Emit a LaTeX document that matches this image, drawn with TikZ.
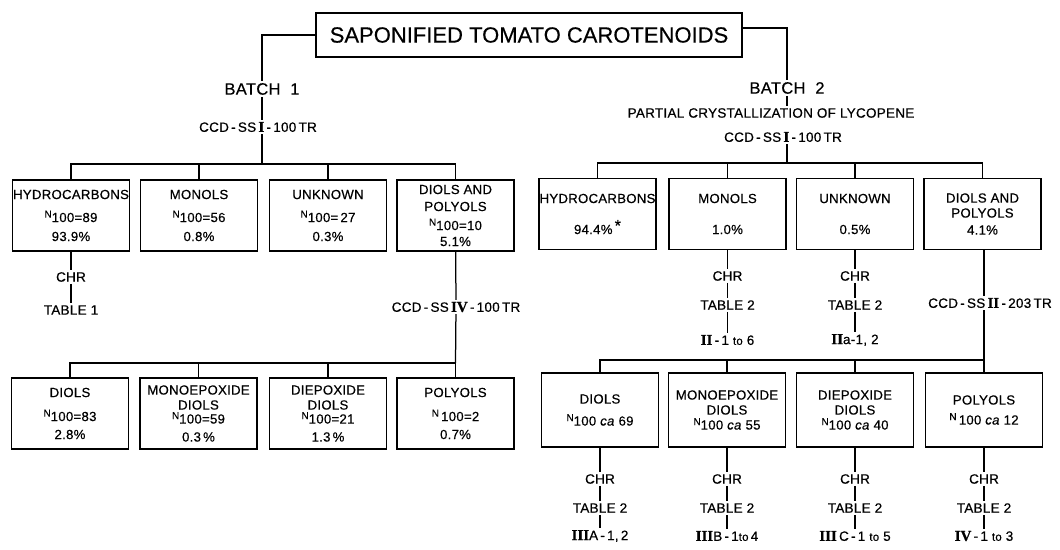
\documentclass[tikz,border=0pt]{standalone}
\usepackage{fontspec}
\setmainfont{Liberation Sans}
\newfontfamily\lfont[LetterSpace=2,FakeBold=0.5]{Liberation Sans}
\newfontfamily\tfont[FakeBold=0.4]{Liberation Sans}
\newfontfamily\romfont[FakeBold=0.5]{Liberation Serif}
\newcommand\rn[1]{{\romfont\bfseries\fontsize{15}{15}\selectfont #1}}
\newcommand\Nsub{\raisebox{4.5pt}{\fontsize{10}{10}\selectfont N}}
\newcommand\ca{\textit{ca}}
\newcommand\tto{{\fontsize{11.5}{12}\selectfont to}}
\tikzset{
  box/.style={draw, minimum width=117pt, minimum height=71pt, inner sep=0pt, align=center,
    font=\lfont\fontsize{13.2}{15}\selectfont},
  lab/.style={inner sep=1.5pt, font=\lfont\fontsize{13.5}{15}\selectfont},
  big/.style={inner sep=1.5pt, font=\lfont\fontsize{16.5}{18}\selectfont},
  ttl/.style={draw, minimum width=426pt, minimum height=44pt, inner sep=0pt, font=\tfont\fontsize{22}{26}\selectfont}
}
\begin{document}
\begin{tikzpicture}[x=1pt,y=-1pt,line width=1.25pt]
\useasboundingbox (0,0) rectangle (1060,549);
\node[ttl] (title) at (529,35) {SAPONIFIED TOMATO CAROTENOIDS};
% batch 1
\node[big] (batch1) at (262,89) {BATCH\ \ 1};
\node[lab] (ccd1) at (258,127) {CCD\,-\,SS\,\rn{I}\,-\,100\,TR};
\coordinate (bar1) at (262,164);
\draw (title.west) -| (batch1.north);
\draw (batch1.south) -- (batch1.south |- ccd1.north);
\draw (batch1.south |- ccd1.south) -- (bar1);
\node[box] (h1) at (71,215.5) {HYDROCARBONS\\[8pt]\Nsub100=89\\[4pt]93.9\%};
\node[box] (m1) at (199,215.5) {MONOLS\\[8pt]\Nsub100=56\\[4pt]0.8\%};
\node[box] (u1) at (328,215.5) {UNKNOWN\\[8pt]\Nsub100=\,27\\[4pt]0.3\%};
\node[box] (d1) at (455.5,215.5) {DIOLS AND\\[2pt]POLYOLS\\[4pt]\Nsub100=10\\[1pt]5.1\%};
\draw (h1.north) -- (h1.north |- bar1) -- (d1.north |- bar1) -- (d1.north);
\draw (m1.north) -- (m1.north |- bar1);
\draw (u1.north) -- (u1.north |- bar1);
\node[lab] (chr1) at (71,277) {CHR};
\node[lab] (tab1) at (71,310) {TABLE 1};
\draw (h1) -- (chr1) -- (tab1);
\node[lab] (ccd4) at (456,307) {CCD\,-\,SS\,\rn{IV}\,-\,100\,TR};
\coordinate (bar2) at (455.5,363);
\draw (d1) -- (ccd4);
\draw (ccd4) -- (bar2);
\node[box] (bd1) at (70,413.5) {DIOLS\\[9pt]\Nsub100=83\\[3pt]2.8\%};
\node[box] (bm1) at (198.5,413.5) {MONOEPOXIDE\\DIOLS\\[-1pt]\Nsub100=59\\[3pt]0.3\,\%};
\node[box] (be1) at (328,413.5) {DIEPOXIDE\\DIOLS\\[-1pt]\Nsub100=21\\[3pt]1.3\,\%};
\node[box] (bp1) at (455.5,413.5) {POLYOLS\\[9pt]\Nsub\,100=2\\[3pt]0.7\%};
\draw (bd1.north) -- (bd1.north |- bar2) -- (bp1.north |- bar2) -- (bp1.north);
\draw (bm1.north) -- (bm1.north |- bar2);
\draw (be1.north) -- (be1.north |- bar2);
% batch 2
\node[big] (batch2) at (787,88) {BATCH\ \ 2};
\node[lab] (part) at (771,113) {PARTIAL CRYSTALLIZATION OF LYCOPENE};
\node[lab] (ccd2) at (783,137) {CCD\,-\,SS\,\rn{I}\,-\,100\,TR};
\coordinate (bar3) at (787,163);
\draw ([yshift=7pt]title.east) -| (batch2.north);
\draw (batch2.south) -- (batch2.south |- part.north);
\draw (batch2.south |- ccd2.south) -- (bar3);
\node[box] (h2) at (597.5,214) {HYDROCARBONS\\[16pt]94.4\%\,\raisebox{3pt}{\fontsize{16}{16}\selectfont *}};
\node[box] (m2) at (727.5,214) {MONOLS\\[16pt]1.0\%};
\node[box] (u2) at (855,214) {UNKNOWN\\[16pt]0.5\%};
\node[box] (d2) at (982.5,214) {DIOLS AND\\POLYOLS\\[2pt]4.1\%};
\draw (h2.north) -- (h2.north |- bar3) -- (d2.north |- bar3) -- (d2.north);
\draw (m2.north) -- (m2.north |- bar3);
\draw (u2.north) -- (u2.north |- bar3);
\node[lab] (chr2) at (727.5,276) {CHR};
\node[lab] (tab2) at (727.5,305) {TABLE 2};
\node[lab] (ref2) at (727.5,340) {\rn{II}\,-\,1 \tto\ 6};
\draw (m2) -- (chr2) -- (tab2) -- (ref2);
\node[lab] (chr3) at (855,276) {CHR};
\node[lab] (tab3) at (855,305) {TABLE 2};
\node[lab] (ref3) at (855,340) {\rn{II}a-1, 2};
\draw (u2) -- (chr3) -- (tab3) -- (ref3);
\node[lab] (ccd3) at (990,303) {CCD\,-\,SS\,\rn{II}\,-\,203\,TR};
\coordinate (bar4) at (984,360);
\draw (d2.south -| bar4) -- (bar4 |- ccd3.north);
\draw (bar4 |- ccd3.south) -- (bar4);
\node[box, minimum height=74pt] (bd2) at (600,410) {DIOLS\\[7pt]\Nsub100 \ca\ 69};
\node[box, minimum height=74pt] (bm2) at (727,410) {MONOEPOXIDE\\DIOLS\\\Nsub100 \ca\ 55};
\node[box, minimum height=74pt] (be2) at (855,410) {DIEPOXIDE\\DIOLS\\\Nsub100 \ca\ 40};
\node[box, minimum height=74pt] (bp2) at (984,410) {POLYOLS\\[5pt]\Nsub\,100 \ca\ 12};
\draw (bd2.north) -- (bd2.north |- bar4) -- (bar4);
\draw (bm2.north) -- (bm2.north |- bar4);
\draw (be2.north) -- (be2.north |- bar4);
\draw (bp2.north) -- (bar4);
\foreach \n/\x/\r in {a/600/{\rn{III}A\,-\,1,\,2}, b/727/{\rn{III}B\,-\,1\tto\,4}, c/855/{\rn{III}\,C\,-\,1 \tto\ 5}, d/984/{\rn{IV}\,-\,1 \tto\ 3}}{
  \node[lab] (chr\n) at (\x,479) {CHR};
  \node[lab] (tab\n) at (\x,508) {TABLE 2};
  \node[lab] (ref\n) at (\x,536) {\r};
}
\draw (bd2) -- (chra) -- (taba) -- (refa);
\draw (bm2) -- (chrb) -- (tabb) -- (refb);
\draw (be2) -- (chrc) -- (tabc) -- (refc);
\draw (bp2) -- (chrd) -- (tabd) -- (refd);
\end{tikzpicture}
\end{document}
